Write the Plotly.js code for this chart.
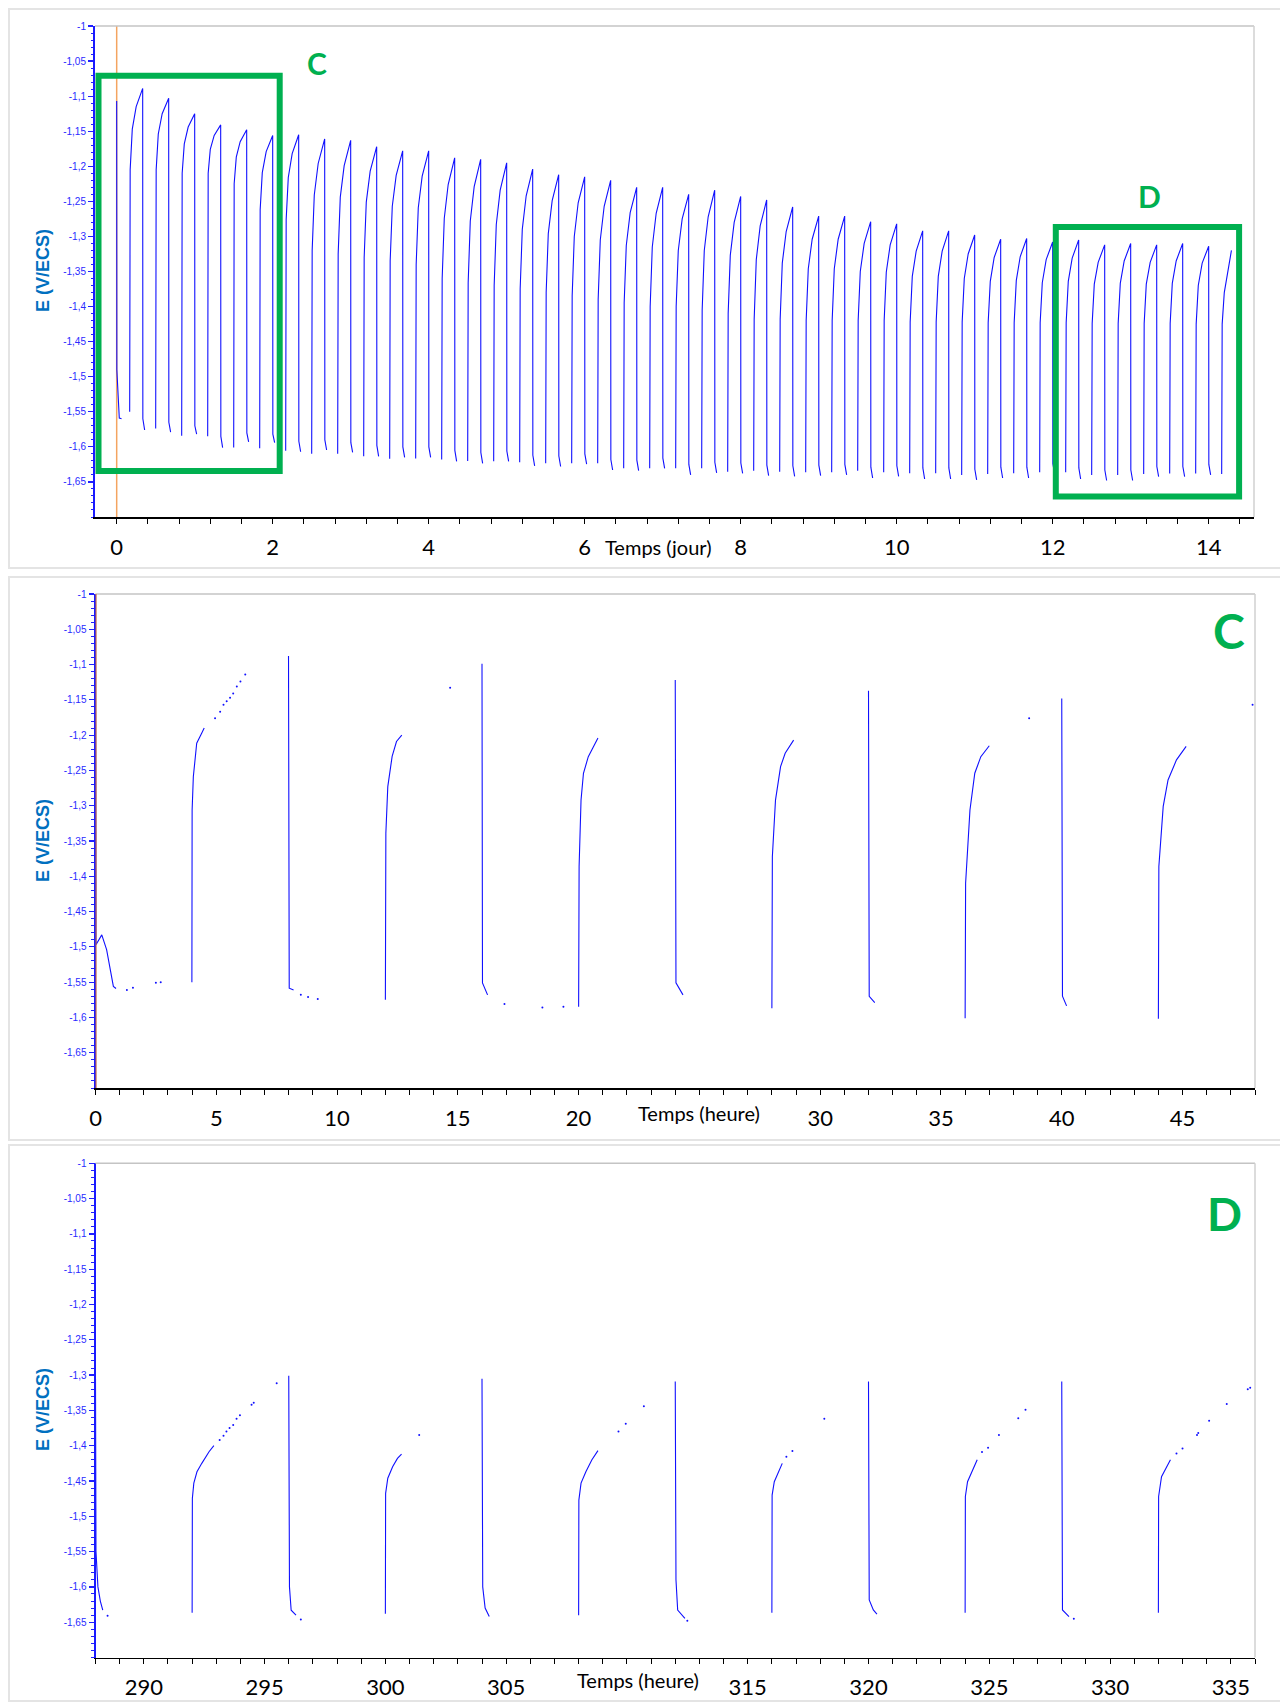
<!DOCTYPE html>
<html><head><meta charset="utf-8">
<script src="https://cdn.plot.ly/plotly-3.0.1.min.js"></script>
<style>html,body{margin:0;padding:0;background:#fff;}#chart{width:1280px;height:1702px;}</style>
</head><body><div id="chart"></div>
<script>
// ---------- Panel 1 : whole test (days) ----------
const startHours = [0, 0.05, 0.8, 1.5];
const startE = [-1.107, -1.49, -1.559, -1.56];
const riseHours = [4,12,20,28,36,44,52,60,68,76,84,92,100,108,116,124,132,140,148,156,164,172,180,188,196,204,212,220,228,236,244,252,260,268,276,284,292,300,308,316,324,332,340];
const peakHours = [8,16,24,32,40,48,56,64,72,80,88,96,104,112,120,128,136,144,152,160,168,176,184,192,200,208,216,224,232,240,248,256,264,272,280,288,296,304,312,320,328,336,343];
const riseLowE = [-1.550,-1.574,-1.584,-1.585,-1.601,-1.602,-1.6055,-1.610,-1.610,-1.6135,-1.617,-1.6165,-1.618,-1.620,-1.6206,-1.622,-1.6235,-1.6235,-1.6235,-1.6306,-1.6306,-1.6306,-1.6306,-1.6354,-1.634,-1.6354,-1.6363,-1.6363,-1.634,-1.6363,-1.6377,-1.6377,-1.640,-1.6387,-1.6377,-1.6363,-1.6363,-1.640,-1.640,-1.6387,-1.638,-1.638,-1.6387];
const kneeE = [-1.205,-1.205,-1.21,-1.21,-1.225,-1.262,-1.276,-1.32,-1.325,-1.33,-1.335,-1.34,-1.36,-1.366,-1.37,-1.375,-1.38,-1.385,-1.39,-1.395,-1.40,-1.40,-1.405,-1.41,-1.418,-1.418,-1.42,-1.42,-1.42,-1.42,-1.422,-1.422,-1.422,-1.423,-1.423,-1.423,-1.423,-1.424,-1.424,-1.424,-1.424,-1.425,-1.425];
const shoulder1E = [-1.147,-1.154,-1.168,-1.176,-1.187,-1.209,-1.216,-1.241,-1.244,-1.251,-1.257,-1.259,-1.274,-1.278,-1.283,-1.290,-1.296,-1.300,-1.305,-1.313,-1.315,-1.320,-1.320,-1.327,-1.333,-1.338,-1.346,-1.346,-1.350,-1.351,-1.357,-1.357,-1.360,-1.364,-1.363,-1.366,-1.364,-1.368,-1.367,-1.368,-1.367,-1.370,-1.380];
const shoulder2E = [-1.115,-1.125,-1.144,-1.156,-1.165,-1.179,-1.182,-1.196,-1.199,-1.207,-1.213,-1.214,-1.226,-1.229,-1.234,-1.242,-1.249,-1.252,-1.257,-1.266,-1.267,-1.275,-1.272,-1.280,-1.285,-1.293,-1.304,-1.304,-1.310,-1.312,-1.321,-1.321,-1.325,-1.330,-1.329,-1.333,-1.331,-1.337,-1.335,-1.337,-1.335,-1.338,-1.345];
const peakE = [-1.089,-1.103,-1.125,-1.141,-1.148,-1.156,-1.155,-1.161,-1.163,-1.172,-1.178,-1.178,-1.188,-1.190,-1.195,-1.204,-1.212,-1.215,-1.220,-1.230,-1.230,-1.240,-1.234,-1.243,-1.248,-1.258,-1.271,-1.271,-1.279,-1.282,-1.292,-1.292,-1.298,-1.304,-1.303,-1.308,-1.305,-1.312,-1.310,-1.312,-1.310,-1.314,-1.320];
const dropE = [-1.560,-1.565,-1.570,-1.585,-1.580,-1.582,-1.592,-1.590,-1.594,-1.598,-1.600,-1.600,-1.605,-1.608,-1.606,-1.612,-1.613,-1.610,-1.618,-1.619,-1.616,-1.625,-1.622,-1.623,-1.626,-1.627,-1.626,-1.625,-1.629,-1.627,-1.630,-1.630,-1.632,-1.629,-1.629,-1.624,-1.630,-1.633,-1.633,-1.628,-1.628,-1.625];
const bottomE = [-1.576,-1.579,-1.582,-1.601,-1.593,-1.594,-1.607,-1.6045,-1.608,-1.6135,-1.615,-1.615,-1.6206,-1.6235,-1.6206,-1.627,-1.628,-1.6245,-1.633,-1.634,-1.6306,-1.640,-1.637,-1.6377,-1.641,-1.642,-1.641,-1.640,-1.6444,-1.642,-1.6458,-1.6458,-1.647,-1.6444,-1.6444,-1.6387,-1.6458,-1.648,-1.648,-1.6425,-1.6425,-1.640];
const dayTicks = [0,2,4,6,8,10,12,14];

// ---------- Panel 2 : zoom C (hours 0-48) ----------
const cLineH = [0,0.02,0.26,0.46,0.74,0.85,null, 3.99,4.0,4.05,4.19,4.4,4.5,null, 7.99,8.0,8.02,8.2,null, 12.0,12.02,12.1,12.28,12.46,12.68,null, 16.0,16.02,16.23,null, 20.0,20.02,20.1,20.2,20.4,20.65,20.8,null, 24.0,24.03,24.32,null, 28.0,28.02,28.15,28.36,28.55,28.9,null, 32.0,32.03,32.26,null, 36.0,36.02,36.2,36.4,36.65,37.0,null, 40.0,40.03,40.2,null, 44.0,44.02,44.2,44.4,44.75,45.15];
const cLineE = [-1.107,-1.497,-1.483,-1.504,-1.556,-1.559,null, -1.550,-1.306,-1.259,-1.2115,-1.197,-1.19,null, -1.088,-1.45,-1.5585,-1.561,null, -1.575,-1.339,-1.273,-1.230,-1.209,-1.200,null, -1.099,-1.551,-1.568,null, -1.585,-1.386,-1.292,-1.254,-1.2305,-1.214,-1.204,null, -1.122,-1.551,-1.568,null, -1.587,-1.372,-1.292,-1.2446,-1.2256,-1.207,null, -1.137,-1.570,-1.579,null, -1.601,-1.41,-1.306,-1.254,-1.2305,-1.215,null, -1.148,-1.57,-1.5836,null, -1.602,-1.386,-1.301,-1.2635,-1.235,-1.216];
const cDotH = [1.3,1.55,2.5,2.7, 4.95,5.16,5.3,5.43,5.57,5.7,5.85,6.0,6.2, 8.5,8.8,9.2, 14.68, 16.93,18.5,19.37, 38.65, 47.9];
const cDotE = [-1.561,-1.558,-1.551,-1.550, -1.176,-1.167,-1.157,-1.152,-1.147,-1.141,-1.131,-1.124,-1.114, -1.568,-1.571,-1.574, -1.133, -1.581,-1.586,-1.585, -1.176, -1.157];
const cTicks = [0,5,10,15,20,30,35,40,45];

// ---------- Panel 3 : zoom D (hours 288-336) ----------
const dLineH = [288.0,288.02,288.1,288.2,288.3,null, 292.0,292.01,292.07,292.2,292.4,292.7,292.9,null, 296.0,296.03,296.1,296.3,null, 300.0,300.01,300.1,300.3,300.5,300.67,null, 304.0,304.03,304.13,304.3,null, 308.0,308.01,308.1,308.3,308.55,308.8,null, 312.0,312.03,312.1,312.4,null, 316.0,316.01,316.1,316.25,316.43,null, 320.0,320.03,320.2,320.35,null, 324.0,324.01,324.1,324.3,324.5,null, 328.0,328.03,328.3,null, 332.0,332.01,332.13,332.27,332.5];
const dLineE = [-1.305,-1.55,-1.60,-1.62,-1.633,null, -1.6365,-1.4745,-1.453,-1.437,-1.425,-1.4085,-1.40,null, -1.301,-1.60,-1.633,-1.640,null, -1.638,-1.4675,-1.446,-1.4297,-1.418,-1.412,null, -1.305,-1.60,-1.63,-1.642,null, -1.64,-1.477,-1.453,-1.437,-1.42,-1.407,null, -1.309,-1.59,-1.6327,-1.6445,null, -1.6365,-1.47,-1.451,-1.439,-1.425,null, -1.309,-1.6185,-1.6327,-1.6384,null, -1.6365,-1.472,-1.451,-1.4344,-1.42,null, -1.309,-1.6327,-1.642,null, -1.6365,-1.472,-1.444,-1.434,-1.42];
const dDotH = [288.5, 293.14,293.3,293.42,293.55,293.7,293.84,293.98,294.46,294.55,295.5, 296.5, 301.4, 309.65,309.95,310.7, 312.5, 316.6,316.85,318.17, 324.7,324.95,325.4,326.2,326.5, 328.5, 332.75,333.0,333.6,333.65,334.1,334.83,335.7,335.8];
const dDotE = [-1.641, -1.392,-1.386,-1.38,-1.375,-1.3707,-1.362,-1.357,-1.342,-1.339,-1.3116, -1.646, -1.385, -1.380,-1.369,-1.344, -1.648, -1.4155,-1.4075,-1.362, -1.409,-1.403,-1.385,-1.361,-1.349, -1.645, -1.411,-1.404,-1.385,-1.382,-1.3646,-1.341,-1.32,-1.318];
const dTicks = [290,295,300,305,315,320,325,330,335];

// ---------- shared y ticks ----------
const yTickVals = [-1,-1.05,-1.1,-1.15,-1.2,-1.25,-1.3,-1.35,-1.4,-1.45,-1.5,-1.55,-1.6,-1.65];
const yTickText = ['-1','-1,05','-1,1','-1,15','-1,2','-1,25','-1,3','-1,35','-1,4','-1,45','-1,5','-1,55','-1,6','-1,65'];

// build panel-1 polyline from per-cycle readings (gaps during the cathodic holds, as in the record)
const aX = [], aY = [];
startHours.forEach((h, j) => { aX.push(h / 24); aY.push(startE[j]); });
aX.push(null); aY.push(null);
for (let i = 0; i < riseHours.length; i++) {
  const r = riseHours[i];
  aX.push(r / 24); aY.push(riseLowE[i]);
  aX.push((r + 0.15) / 24); aY.push(kneeE[i]);
  aX.push((r + 0.8) / 24); aY.push(shoulder1E[i]);
  aX.push((r + 2) / 24); aY.push(shoulder2E[i]);
  aX.push(peakHours[i] / 24); aY.push(peakE[i]);
  if (i < bottomE.length) {
    aX.push((peakHours[i] + 0.05) / 24); aY.push(dropE[i]);
    aX.push((peakHours[i] + 0.6) / 24); aY.push(bottomE[i]);
    aX.push(null); aY.push(null);
  }
}

const W = 1280, H = 1702;
const px = v => v / W, py = v => 1 - v / H;
const BLUE = '#1010ff';
const lineStyle = {color: BLUE, width: 1.1};

const traces = [
  {x: aX, y: aY, xaxis: 'x', yaxis: 'y', mode: 'lines', line: lineStyle, connectgaps: false, hoverinfo: 'skip'},
  {x: cLineH, y: cLineE, xaxis: 'x2', yaxis: 'y2', mode: 'lines', line: lineStyle, connectgaps: false, hoverinfo: 'skip'},
  {x: cDotH, y: cDotE, xaxis: 'x2', yaxis: 'y2', mode: 'markers', marker: {color: BLUE, size: 2}, hoverinfo: 'skip'},
  {x: dLineH, y: dLineE, xaxis: 'x3', yaxis: 'y3', mode: 'lines', line: lineStyle, connectgaps: false, hoverinfo: 'skip'},
  {x: dDotH, y: dDotE, xaxis: 'x3', yaxis: 'y3', mode: 'markers', marker: {color: BLUE, size: 2}, hoverinfo: 'skip'}
];

function yAxis(top, bottom, anchor) {
  return {
    domain: [py(bottom), py(top)], range: [-1.7, -1], anchor: anchor,
    tickmode: 'array', tickvals: yTickVals, ticktext: yTickText,
    ticks: 'outside', ticklen: 5, tickwidth: 1.2, tickcolor: '#2020ff',
    tickfont: {family: 'Liberation Sans, Arial, sans-serif', size: 10, color: '#2a2aff'},
    showline: true, linecolor: '#1a1aff', linewidth: 2,
    showgrid: false, zeroline: false, fixedrange: true,
    minor: {tickmode: 'linear', tick0: -1, dtick: 0.01, ticks: 'outside', ticklen: 2.5, tickcolor: '#2020ff', tickwidth: 1, showgrid: false}
  };
}
function xAxis(left, right, range, vals, minorStep, anchor) {
  return {
    domain: [px(left), px(right)], range: range, anchor: anchor,
    tickmode: 'array', tickvals: vals, ticktext: vals.map(String),
    ticks: 'outside', ticklen: 5, tickwidth: 1, tickcolor: '#000',
    ticklabelstandoff: 5,
    tickfont: {family: 'Lato, Open Sans, sans-serif', size: 22, color: '#000'},
    showline: true, linecolor: '#000', linewidth: 1.5,
    showgrid: false, zeroline: false, fixedrange: true,
    minor: {tickmode: 'linear', tick0: 0, dtick: minorStep, ticks: 'outside', ticklen: 5, tickcolor: '#000', tickwidth: 1, showgrid: false}
  };
}

const GREEN = '#00b050';
const shapes = [];
// outer panel frames
[[9, 568], [577, 1140], [1145, 1701]].forEach(([t, b]) => {
  shapes.push({type: 'rect', xref: 'paper', yref: 'paper', x0: px(9), x1: px(1290), y0: py(b), y1: py(t), line: {color: '#e4e4e4', width: 2}, layer: 'below'});
});
// top/right plot borders
[['x', 'y'], ['x2', 'y2'], ['x3', 'y3']].forEach(([xa, ya]) => {
  shapes.push({type: 'line', xref: xa + ' domain', yref: ya + ' domain', x0: 0, x1: 1, y0: 1, y1: 1, line: {color: '#c4c4c4', width: 1.5}});
  shapes.push({type: 'line', xref: xa + ' domain', yref: ya + ' domain', x0: 1, x1: 1, y0: 0, y1: 1, line: {color: '#d0d0d0', width: 1.5}});
});
// orange cursor lines at t = 0
shapes.push({type: 'line', xref: 'x', yref: 'y domain', x0: 0, x1: 0, y0: 0, y1: 1, line: {color: '#f4a460', width: 1.5}, layer: 'below'});
shapes.push({type: 'line', xref: 'x2', yref: 'y2 domain', x0: 0, x1: 0, y0: 0, y1: 1, line: {color: '#c8683e', width: 2.2}, layer: 'above'});
// green boxes C and D on panel 1
shapes.push({type: 'rect', xref: 'x', yref: 'y', x0: -0.233, x1: 2.09, y0: -1.6344, y1: -1.0711, line: {color: GREEN, width: 6}});
shapes.push({type: 'rect', xref: 'x', yref: 'y', x0: 12.04, x1: 14.39, y0: -1.6707, y1: -1.2866, line: {color: GREEN, width: 6}});

const yTitleFont = {family: 'Liberation Sans, Arial, sans-serif', size: 18, color: '#0070c0'};
const xTitleFont = {family: 'Lato, Open Sans, sans-serif', size: 20, color: '#000'};
const letterFont = s => ({family: 'Lato, Open Sans, sans-serif', size: s, color: GREEN});
function ann(x, y, text, font, extra) {
  return Object.assign({xref: 'paper', yref: 'paper', x: px(x), y: py(y), text: text, font: font, showarrow: false, xanchor: 'center', yanchor: 'middle'}, extra || {});
}
const annotations = [
  ann(43, 271, '<b>E (V/ECS)</b>', yTitleFont, {textangle: -90}),
  ann(43, 841, '<b>E (V/ECS)</b>', yTitleFont, {textangle: -90}),
  ann(43, 1410, '<b>E (V/ECS)</b>', yTitleFont, {textangle: -90}),
  ann(658, 547, 'Temps (jour)', xTitleFont),
  ann(699, 1113, 'Temps (heure)', xTitleFont),
  ann(638, 1680, 'Temps (heure)', xTitleFont),
  ann(317, 63, '<b>C</b>', letterFont(30)),
  ann(1149, 196, '<b>D</b>', letterFont(30)),
  ann(1229, 631, '<b>C</b>', letterFont(48)),
  ann(1224, 1213, '<b>D</b>', letterFont(46))
];

const layout = {
  width: W, height: H, margin: {l: 0, r: 0, t: 0, b: 0},
  paper_bgcolor: '#ffffff', plot_bgcolor: '#ffffff', showlegend: false,
  xaxis: xAxis(95, 1254, [-0.278, 14.581], dayTicks, 0.4, 'y'),
  yaxis: yAxis(26, 517, 'x'),
  xaxis2: xAxis(95.5, 1255, [0, 48], cTicks, 1, 'y2'),
  yaxis2: yAxis(594, 1088, 'x2'),
  xaxis3: xAxis(95.5, 1255, [288, 336], dTicks, 1, 'y3'),
  yaxis3: yAxis(1163.3, 1657.5, 'x3'),
  shapes: shapes, annotations: annotations
};

Plotly.newPlot('chart', traces, layout, {staticPlot: true, displayModeBar: false});
</script>
</body></html>
